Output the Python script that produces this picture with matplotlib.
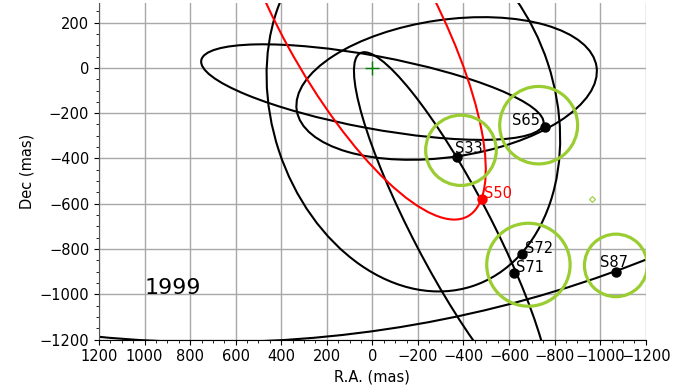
import matplotlib
matplotlib.use('Agg')
import matplotlib.pyplot as plt
from matplotlib.patches import Ellipse, Circle
from matplotlib.ticker import MultipleLocator

############################################
#
# Orbits in the plane of the sky (mas).
#
orbit_cx = [0, -326, -349, -180, 706, 77]
orbit_cy = [-107, -91, -710, -173, 3961, 252]
orbit_w = [320, 1330, 1746, 1664, 10344, 2068]
orbit_h = [1528, 606, 344, 1242, 10344, 666]
orbit_angle = [100.6, 171.7, -117.4, -108.1, 0.0, -118.6]
orbit_color = ['k', 'k', 'k', 'k', 'k', 'red']

# Star positions in 1999
star_names = ['S33', 'S65', 'S50', 'S72', 'S71', 'S87']
star_x = [-372, -760, -481, -657, -620, -1068]
star_y = [-393, -259, -578, -822, -906, -900]
star_color = ['k', 'k', 'red', 'k', 'k', 'k']

# Highlight circles
circ_x = [-389, -730, -685, -1069]
circ_y = [-364, -253, -869, -872]
circ_r = [155, 171, 183, 138]

# Small marker
diamond_x = [-965]
diamond_y = [-579]

year = '1999'

# label offsets in points and alignment
label_dx = [-1.5, -4.3, 1.5, 2.4, 1.5, -11.5]
label_dy = [2.7, 0.8, 0.8, 0.5, 0.5, 3.6]
label_ha = ['left', 'right', 'left', 'left', 'left', 'left']

############################################
#
# Plot
#
plt.rcParams['font.size'] = 10.5
fig = plt.figure(figsize=(6.86, 3.87), dpi=100)
ax = fig.add_axes([0.1443, 0.1222, 0.797, 0.8693])

for i in range(len(orbit_cx)):
    e = Ellipse((orbit_cx[i], orbit_cy[i]), orbit_w[i], orbit_h[i],
                angle=orbit_angle[i], fill=False,
                edgecolor=orbit_color[i], lw=1.5, zorder=2)
    ax.add_patch(e)

for i in range(len(circ_x)):
    c = Circle((circ_x[i], circ_y[i]), circ_r[i], fill=False,
               edgecolor='yellowgreen', lw=2.3, zorder=3)
    ax.add_patch(c)

ax.plot(diamond_x, diamond_y, 'D', mfc='none', mec='yellowgreen',
        ms=3, mew=0.8, zorder=3)
ax.plot(0, 0, '+', color='green', ms=10, mew=1.0, zorder=4)

for i in range(len(star_names)):
    ax.plot(star_x[i], star_y[i], 'o', color=star_color[i], ms=6.5, zorder=5)
    ax.annotate(star_names[i], (star_x[i], star_y[i]),
                xytext=(label_dx[i], label_dy[i]), textcoords='offset points',
                ha=label_ha[i], va='baseline', color=star_color[i], zorder=6)

ax.text(1000, -1000, year, fontsize=16)

ax.set_xlim(1200, -1200)
ax.set_ylim(-1200, 285)
ax.xaxis.set_major_locator(MultipleLocator(200))
ax.yaxis.set_major_locator(MultipleLocator(200))
ax.xaxis.set_minor_locator(MultipleLocator(50))
ax.yaxis.set_minor_locator(MultipleLocator(50))
ax.grid(True, which='major', color='#a8a8a8', lw=1.0)
ax.set_axisbelow(True)
ax.spines['top'].set_visible(False)
ax.spines['right'].set_visible(False)
ax.spines['left'].set_color('#555555')
ax.tick_params(which='both', direction='out')
ax.set_xlabel('R.A. (mas)')
ax.set_ylabel('Dec (mas)')

fig.savefig('out.png', dpi=100)
